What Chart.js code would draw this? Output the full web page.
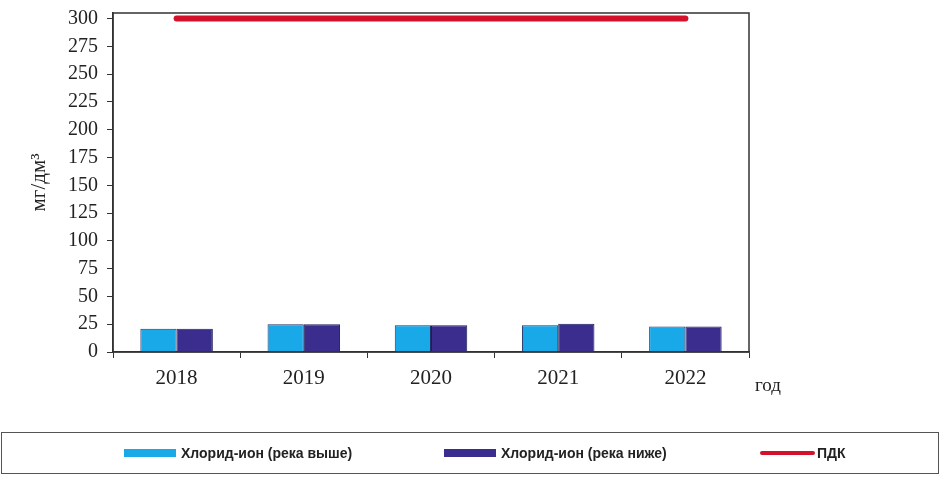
<!DOCTYPE html>
<html>
<head>
<meta charset="utf-8">
<script src="https://cdn.jsdelivr.net/npm/chart.js@4.4.1/dist/chart.umd.min.js"></script>
<style>
    html, body { margin: 0; padding: 0; background: #fff; }
    #wrap { position: relative; width: 943px; height: 478px; }
    #legend {
        position: absolute; left: 1px; top: 432px; width: 938px; height: 42px;
        border: 1px solid #555; box-sizing: border-box;
        font-family: "Liberation Sans Narrow", "Arial Narrow", "Liberation Sans", sans-serif;
        font-weight: bold; font-size: 14px; color: #222;
    }
    #legend .item { position: absolute; top: 12px; display: flex; align-items: center; white-space: nowrap; }
    #legend .swatch { width: 52px; height: 8px; margin-right: 5px; }
    #legend .line { width: 55px; height: 4px; border-radius: 2px; margin-right: 2px; }
</style>
</head>
<body>
<div id="wrap">
    <canvas id="chart" width="943" height="478"></canvas>
    <div id="legend"></div>
</div>
<script>
const years = ['2018', '2019', '2020', '2021', '2022'];
const chlorideUpstream = [21, 25, 24, 24, 23];
const chlorideDownstream = [21, 25, 24, 25.5, 23];
const mpcLimit = [300, 300, 300, 300, 300];
const yTicks = [0, 25, 50, 75, 100, 125, 150, 175, 200, 225, 250, 275, 300];

const seriesNames = ['Хлорид-ион (река выше)', 'Хлорид-ион (река ниже)', 'ПДК'];

// рамка вокруг области построения и подпись "год" справа от оси X
const frame = {
    id: 'frame',
    afterDraw(chart) {
        const { ctx, chartArea: a } = chart;
        ctx.save();
        ctx.strokeStyle = '#333';
        ctx.lineWidth = 1.5;
        ctx.strokeRect(a.left, a.top, a.right - a.left, a.bottom - a.top);
        ctx.fillStyle = '#222';
        ctx.font = '19px "Liberation Serif", serif';
        ctx.textBaseline = 'middle';
        ctx.fillText('год', a.right + 6, a.bottom + 34);
        ctx.restore();
    }
};

const chart = new Chart(document.getElementById('chart'), {
    type: 'bar',
    data: {
        labels: years,
        datasets: [{
            label: seriesNames[0],
            data: chlorideUpstream,
            backgroundColor: '#19a8e8',
            borderColor: '#253066',
            borderWidth: 1,
            order: 2
        }, {
            label: seriesNames[1],
            data: chlorideDownstream,
            backgroundColor: '#3a2d8e',
            borderColor: '#1d1f55',
            borderWidth: 1,
            order: 2
        }, {
            type: 'line',
            label: seriesNames[2],
            data: mpcLimit,
            borderColor: '#d3112b',
            borderWidth: 6,
            borderCapStyle: 'round',
            pointRadius: 0,
            clip: false,
            order: 1
        }]
    },
    options: {
        responsive: false,
        animation: false,
        layout: { padding: { left: 0, right: 194, top: 13, bottom: 86 } },
        datasets: { bar: { categoryPercentage: 0.57, barPercentage: 1 } },
        plugins: { legend: { display: false }, tooltip: { enabled: false } },
        scales: {
            x: {
                offset: true,
                grid: { display: true, offset: true, drawOnChartArea: false, tickLength: 6, color: '#333' },
                border: { color: '#333', width: 1.5 },
                ticks: { color: '#222', padding: 8, font: { family: '"Liberation Serif", serif', size: 21 } },
                afterFit(s) { s.height = 40; }
            },
            y: {
                min: 0,
                max: 305,
                afterBuildTicks(s) { s.ticks = yTicks.map(v => ({ value: v })); },
                grid: { display: true, drawOnChartArea: false, tickLength: 6, color: '#333' },
                border: { color: '#333', width: 1.5 },
                ticks: { autoSkip: false, color: '#222', padding: 9, font: { family: '"Liberation Serif", serif', size: 20 } },
                title: {
                    display: true,
                    text: 'мг/дм³',
                    color: '#222',
                    padding: { top: 27, bottom: 0 },
                    font: { family: '"Liberation Serif", serif', size: 21 }
                },
                afterFit(s) {
                    s.width = 113;
                    s.paddingTop = 0;
                    s.paddingBottom = 0;
                }
            }
        }
    },
    plugins: [frame]
});

// легенда внизу, в рамке
const legend = document.getElementById('legend');
const legendX = [122, 442, 758];
chart.data.datasets.forEach((ds, i) => {
    const item = document.createElement('div');
    item.className = 'item';
    item.style.left = legendX[i] + 'px';
    const mark = document.createElement('span');
    if (ds.type === 'line') {
        mark.className = 'line';
        mark.style.background = ds.borderColor;
    } else {
        mark.className = 'swatch';
        mark.style.background = ds.backgroundColor;
    }
    item.appendChild(mark);
    item.appendChild(document.createTextNode(ds.label));
    legend.appendChild(item);
});
</script>
</body>
</html>
